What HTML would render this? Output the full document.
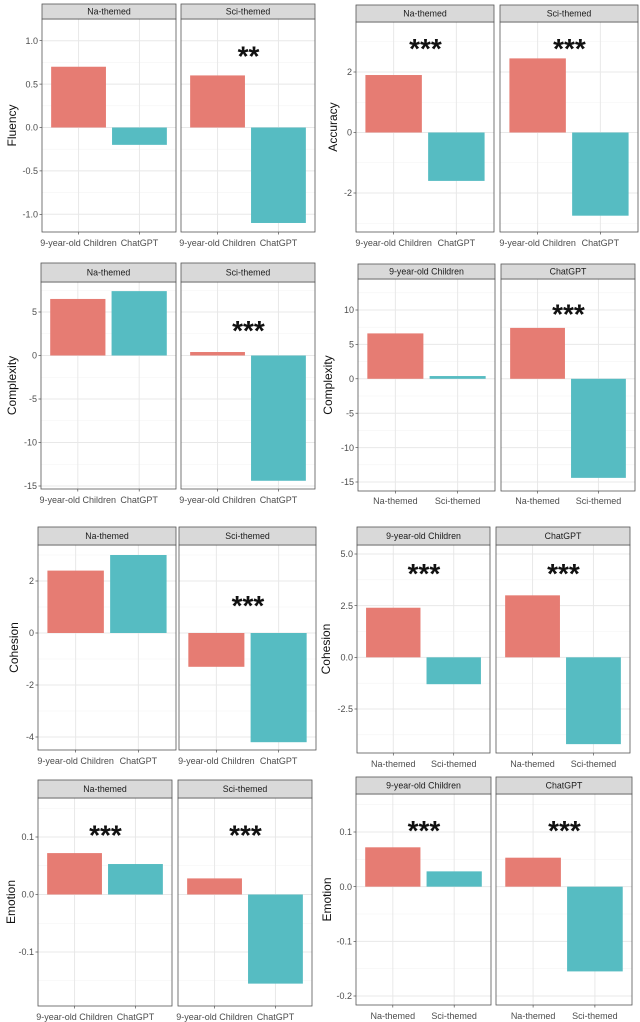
<!DOCTYPE html>
<html><head><meta charset="utf-8">
<style>
html,body{margin:0;padding:0;background:#fff;}
svg{display:block;font-family:"Liberation Sans",sans-serif;}
</style></head>
<body>
<svg id="fig" width="640" height="1022" viewBox="0 0 640 1022"></svg>
<script>
// ---- data ----
const c1Strips=["Na-themed","Sci-themed"];
const c1Cats=["9-year-old Children","ChatGPT"];
const c1Values=[[0.7,-0.2],[0.6,-1.1]];
const c1Ticks=[1,0.5,0,-0.5,-1];
const c1TickLabels=["1.0","0.5","0.0","-0.5","-1.0"];
const c1Stars=["","**"];
const c1StarValues=[0.87,0.87];

const c2Strips=["Na-themed","Sci-themed"];
const c2Cats=["9-year-old Children","ChatGPT"];
const c2Values=[[1.9,-1.6],[2.45,-2.75]];
const c2Ticks=[2,0,-2];
const c2TickLabels=["2","0","-2"];
const c2Stars=["***","***"];
const c2StarValues=[2.9,2.9];

const c3Strips=["Na-themed","Sci-themed"];
const c3Cats=["9-year-old Children","ChatGPT"];
const c3Values=[[6.5,7.4],[0.4,-14.4]];
const c3Ticks=[5,0,-5,-10,-15];
const c3TickLabels=["5","0","-5","-10","-15"];
const c3Stars=["","***"];
const c3StarValues=[3.3,3.3];

const c4Strips=["9-year-old Children","ChatGPT"];
const c4Cats=["Na-themed","Sci-themed"];
const c4Values=[[6.6,0.4],[7.4,-14.4]];
const c4Ticks=[10,5,0,-5,-10,-15];
const c4TickLabels=["10","5","0","-5","-10","-15"];
const c4Stars=["","***"];
const c4StarValues=[10,10];

const c5Strips=["Na-themed","Sci-themed"];
const c5Cats=["9-year-old Children","ChatGPT"];
const c5Values=[[2.4,3.0],[-1.3,-4.2]];
const c5Ticks=[2,0,-2,-4];
const c5TickLabels=["2","0","-2","-4"];
const c5Stars=["","***"];
const c5StarValues=[1.2,1.2];

const c6Strips=["9-year-old Children","ChatGPT"];
const c6Cats=["Na-themed","Sci-themed"];
const c6Values=[[2.4,-1.3],[3.0,-4.2]];
const c6Ticks=[5,2.5,0,-2.5];
const c6TickLabels=["5.0","2.5","0.0","-2.5"];
const c6Stars=["***","***"];
const c6StarValues=[4.25,4.25];

const c7Strips=["Na-themed","Sci-themed"];
const c7Cats=["9-year-old Children","ChatGPT"];
const c7Values=[[0.072,0.053],[0.028,-0.155]];
const c7Ticks=[0.1,0,-0.1];
const c7TickLabels=["0.1","0.0","-0.1"];
const c7Stars=["***","***"];
const c7StarValues=[0.11,0.11];

const c8Strips=["9-year-old Children","ChatGPT"];
const c8Cats=["Na-themed","Sci-themed"];
const c8Values=[[0.072,0.028],[0.053,-0.155]];
const c8Ticks=[0.1,0,-0.1,-0.2];
const c8TickLabels=["0.1","0.0","-0.1","-0.2"];
const c8Stars=["***","***"];
const c8StarValues=[0.11,0.11];

// ---- layout ----
const charts=[
 {id:"fluency",yl:"Fluency",ylx:12,xly:243,panels:[[42,176],[181,315]],st:4,sb:19,bot:232,a:[1,40.7],b:[-1,214.3],strips:c1Strips,cats:c1Cats,vals:c1Values,ticks:c1Ticks,tl:c1TickLabels,stars:c1Stars,sv:c1StarValues},
 {id:"accuracy",yl:"Accuracy",ylx:333,xly:243,panels:[[356,494],[500,638]],st:5,sb:22,bot:232,a:[2,72],b:[-2,193],strips:c2Strips,cats:c2Cats,vals:c2Values,ticks:c2Ticks,tl:c2TickLabels,stars:c2Stars,sv:c2StarValues},
 {id:"complexity-by-theme",yl:"Complexity",ylx:12,xly:500,panels:[[41,176],[181,315]],st:263,sb:282,bot:489,a:[5,312],b:[-15,486],strips:c3Strips,cats:c3Cats,vals:c3Values,ticks:c3Ticks,tl:c3TickLabels,stars:c3Stars,sv:c3StarValues},
 {id:"complexity-by-writer",yl:"Complexity",ylx:328,xly:501,panels:[[358,495],[501,635]],st:264,sb:279,bot:491,a:[10,310],b:[-15,482],strips:c4Strips,cats:c4Cats,vals:c4Values,ticks:c4Ticks,tl:c4TickLabels,stars:c4Stars,sv:c4StarValues},
 {id:"cohesion-by-theme",yl:"Cohesion",ylx:14,xly:761,panels:[[38,176],[179,316]],st:527,sb:545,bot:750,a:[2,581],b:[-4,737],strips:c5Strips,cats:c5Cats,vals:c5Values,ticks:c5Ticks,tl:c5TickLabels,stars:c5Stars,sv:c5StarValues},
 {id:"cohesion-by-writer",yl:"Cohesion",ylx:326,xly:764,panels:[[357,490],[496,630]],st:527,sb:545,bot:753,a:[5,554],b:[-2.5,709],strips:c6Strips,cats:c6Cats,vals:c6Values,ticks:c6Ticks,tl:c6TickLabels,stars:c6Stars,sv:c6StarValues},
 {id:"emotion-by-theme",yl:"Emotion",ylx:11,xly:1017,panels:[[38,172],[178,312]],st:780,sb:798,bot:1006,a:[0.1,837],b:[-0.1,952],strips:c7Strips,cats:c7Cats,vals:c7Values,ticks:c7Ticks,tl:c7TickLabels,stars:c7Stars,sv:c7StarValues},
 {id:"emotion-by-writer",yl:"Emotion",ylx:327,xly:1016,panels:[[356,491],[496,632]],st:777,sb:794,bot:1005,a:[0.1,832],b:[-0.2,996],strips:c8Strips,cats:c8Cats,vals:c8Values,ticks:c8Ticks,tl:c8TickLabels,stars:c8Stars,sv:c8StarValues}
];
const COLORS=["#e67c73","#56bcc2"];
const NS="http://www.w3.org/2000/svg";
const svg=document.getElementById("fig");
function mk(tag,attrs,parent,txt){const e=document.createElementNS(NS,tag);for(const k in attrs)e.setAttribute(k,attrs[k]);if(txt!==undefined)e.textContent=txt;(parent||svg).appendChild(e);return e;}

charts.forEach(c=>{
  const g=mk("g",{});
  
  
  const y=v=>c.a[1]+(v-c.a[0])*(c.b[1]-c.a[1])/(c.b[0]-c.a[0]);
  const step=c.ticks[0]-c.ticks[1];
  const minors=[];
  for(let i=-1;i<c.ticks.length;i++){const v=c.ticks[0]-step*(i+0.5);const py=y(v);if(py>c.sb&&py<c.bot)minors.push(py);}
  const yl=mk("text",{x:c.ylx,y:(c.sb+c.bot)/2,"font-size":12,fill:"#111","text-anchor":"middle",transform:`rotate(-90 ${c.ylx} ${(c.sb+c.bot)/2})`,"dominant-baseline":"central"},g,c.yl);
  
  
  const x0=c.panels[0][0];
  c.ticks.forEach((t,i)=>{
    const tl=mk("text",{x:x0-4,y:y(t)+3.2,"font-size":9,fill:"#4d4d4d","text-anchor":"end"},g,c.tl[i]);
    
    
    mk("line",{x1:x0-2.5,x2:x0,y1:y(t),y2:y(t),stroke:"#333","stroke-width":0.6},g);
  });
  c.panels.forEach((p,pi)=>{
    const [px0,px1]=p;const w=px1-px0;
    const xs=u=>px0+(u-0.4)/2.2*w;
    const pg=mk("g",{},g);
    
    
    minors.forEach(py=>mk("line",{x1:px0,x2:px1,y1:py,y2:py,stroke:"#f3f3f3","stroke-width":0.6},pg));
    c.ticks.forEach(t=>mk("line",{x1:px0,x2:px1,y1:y(t),y2:y(t),stroke:"#e8e8e8","stroke-width":1},pg));
    c.cats.forEach((cat,ci)=>{
      const cx=xs(ci+1);
      mk("line",{x1:cx,x2:cx,y1:c.sb,y2:c.bot,stroke:"#e8e8e8","stroke-width":1},pg);
      mk("line",{x1:cx,x2:cx,y1:c.bot,y2:c.bot+2.5,stroke:"#333","stroke-width":0.6},pg);
      const xl=mk("text",{x:cx,y:c.xly+3.2,"font-size":9,fill:"#4d4d4d","text-anchor":"middle"},pg,cat);
      
      
    });
    c.vals[pi].forEach((v,ci)=>{
      const bx=xs(ci+1-0.45),bw=xs(ci+1+0.45)-bx;
      const top=Math.min(y(v),y(0)),h=Math.abs(y(v)-y(0));
      const r=mk("rect",{x:bx,y:top,width:bw,height:Math.max(h,0.8),fill:COLORS[ci]},pg);
      
      
    });
    if(c.stars[pi]){
      const s=mk("text",{x:(px0+px1)/2+0.5,y:y(c.sv[pi])+0.55*28-2,"font-size":28,"font-weight":"bold",fill:"#111","text-anchor":"middle"},pg,c.stars[pi]);
      
      
    }
    mk("rect",{x:px0,y:c.sb,width:w,height:c.bot-c.sb,fill:"none",stroke:"#555","stroke-width":0.8},pg);
    const sr=mk("rect",{x:px0,y:c.st,width:w,height:c.sb-c.st,fill:"#d9d9d9",stroke:"#555","stroke-width":0.8},pg);
    
    
    const stx=mk("text",{x:(px0+px1)/2,y:(c.st+c.sb)/2+3,"font-size":8.8,fill:"#1a1a1a","text-anchor":"middle"},pg,c.strips[pi]);
    
    
  });
});
</script>
</body></html>
